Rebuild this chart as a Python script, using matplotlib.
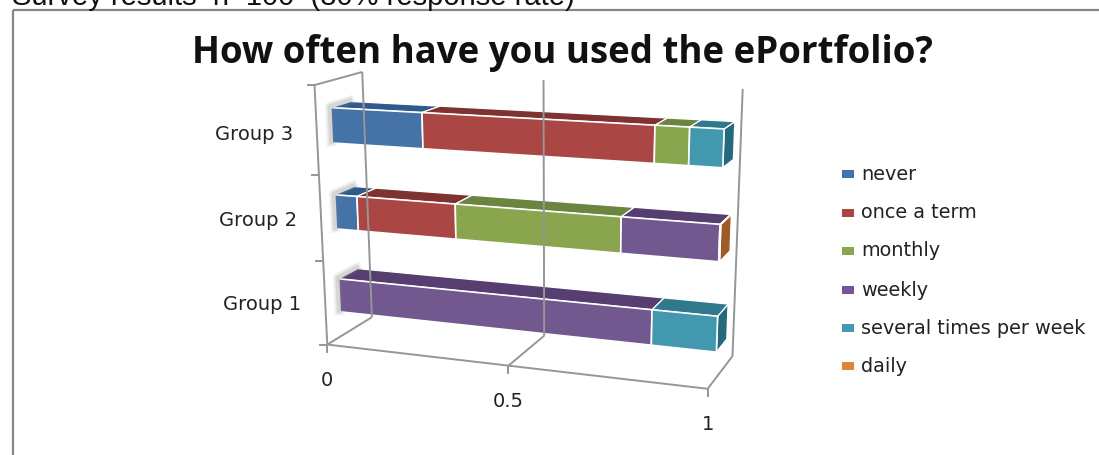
import numpy as np
import matplotlib
matplotlib.use('Agg')
import matplotlib.pyplot as plt
from matplotlib.patches import Polygon, Rectangle

# data (share of each group)
groups = ['Group 1', 'Group 2', 'Group 3']
series = ['never', 'once a term', 'monthly', 'weekly', 'several times per week', 'daily']
never = [0.0, 0.063, 0.25]
once_a_term = [0.0, 0.27, 0.588]
monthly = [0.0, 0.427, 0.082]
weekly = [0.84, 0.238, 0.0]
several = [0.16, 0.0, 0.08]
daily = [0.0, 0.002, 0.0]
values = [never, once_a_term, monthly, weekly, several, daily]
x_ticks = [0, 0.5, 1]

colors = ['#4572A7', '#AA4643', '#89A54E', '#71588F', '#4198AF', '#DB843D']
tops = ['#2F5A8B', '#7F3232', '#6B8440', '#563F70', '#30788C', '#A9632B']
sides = ['#2A5280', '#763030', '#627A3A', '#4F3A67', '#256A7C', '#A05A25']

# the chart box in 3D (value, depth, height) -> pixels, fitted from its corners
box3d = np.array([[0, 0, 0], [1, 0, 0], [0, 1, 0], [1, 1, 0], [0, 0, 1], [0, 1, 1], [1, 1, 1],
                  [0.5, 0, 0], [0.5, 1, 0], [0.5, 1, 1]], float)
box2d = np.array([[327, 345], [708, 388], [372, 317], [732, 357], [315, 85], [362, 73], [743, 90],
                  [508, 366], [545, 335], [543, 78]], float)

rows = []
for p, q in zip(box3d, box2d):
    h = list(p) + [1]
    rows.append(h + [0, 0, 0, 0] + [-q[0] * c for c in h])
    rows.append([0, 0, 0, 0] + h + [-q[1] * c for c in h])
cam = np.linalg.svd(np.array(rows))[2][-1].reshape(3, 4)


def project(u, w, z):
    a = cam @ np.array([u, w, z, 1.0])
    return a[0] / a[2], a[1] / a[2]


fig = plt.figure(figsize=(10.99, 4.55), dpi=100)
ax = fig.add_axes([0, 0, 1, 1])
ax.set_xlim(0, 1099)
ax.set_ylim(455, 0)
ax.axis('off')

ax.add_patch(Rectangle((12.5, 10), 1200, 600, fill=False, ec='#868686', lw=1.6))
ax.text(12, 5, 'Survey results  n=100  (80% response rate)', fontsize=21,
        family='Liberation Sans', color='#111111', va='baseline', clip_on=True)
ax.text(562, 53, 'How often have you used the ePortfolio?', fontsize=26.4, family='Open Sans',
        weight='bold', ha='center', va='center', color='#111111')


def line3d(a, b, lw=1.4):
    p, q = project(*a), project(*b)
    ax.plot([p[0], q[0]], [p[1], q[1]], color='#969696', lw=lw, solid_capstyle='butt')


# walls, floor and ticks
line3d((0, 0, 0), (0, 0, 1))
line3d((0, 0, 1), (0, 1, 1))
line3d((0, 1, 1), (0, 1, 0))
line3d((1, 1, 1), (1, 1, 0))
line3d((0.5, 1, 1), (0.5, 1, 0))
line3d((0, 0, 0), (1, 0, 0))
for u in x_ticks:
    line3d((u, 0, 0), (u, 1, 0))
    p = project(u, 0, 0)
    ax.plot([p[0], p[0]], [p[1], p[1] + 7], color='#969696', lw=1.4)
    ax.text(p[0], p[1] + 36, '%g' % u, fontsize=14, family='DejaVu Sans', ha='center', va='center', color='#222222')
for k in range(4):
    p = project(0, 0, k / 3)
    ax.plot([p[0] - 7, p[0]], [p[1], p[1]], color='#969696', lw=1.4)

# bars
w0, w1 = 0.3, 0.72
half = 0.067
for i, g in enumerate(groups):
    zc = (i + 0.5) / 3
    z0, z1 = zc - half, zc + half
    p = project(0, w0, zc)
    ax.text(p[0] - 38, p[1] + 9, g, fontsize=14, family='DejaVu Sans', ha='right', va='center', color='#222222')
    # soft shadow on the left cap
    cap = [project(0, w0, z0), project(0, w0, z1), project(0, w1, z1)]
    for lw, al in [(7, 0.08), (5, 0.12), (3, 0.18)]:
        ax.plot([c[0] - 1 for c in cap], [c[1] - 1 for c in cap], color='#888888', lw=lw, alpha=al)
    left = 0.0
    for s in range(len(series)):
        v = values[s][i]
        if v == 0:
            continue
        right = left + v
        top = [project(left, w0, z1), project(right, w0, z1), project(right, w1, z1), project(left, w1, z1)]
        front = [project(left, w0, z0), project(right, w0, z0), project(right, w0, z1), project(left, w0, z1)]
        side = [project(right, w0, z0), project(right, w1, z0), project(right, w1, z1), project(right, w0, z1)]
        ax.add_patch(Polygon(side, fc=sides[s], ec='white', lw=1))
        ax.add_patch(Polygon(top, fc=tops[s], ec='white', lw=0.9))
        ax.add_patch(Polygon(front, fc=colors[s], ec='white', lw=1.2))
        left = right

# legend
legend_y = [174, 213, 251, 290, 328, 366]
for name, c, y in zip(series, colors, legend_y):
    ax.add_patch(Rectangle((842, y - 4), 12, 8, fc=c, ec='none'))
    ax.text(861, y, name, fontsize=13.9, family='DejaVu Sans', va='center', color='#222222')

fig.savefig('out.png', dpi=100)
